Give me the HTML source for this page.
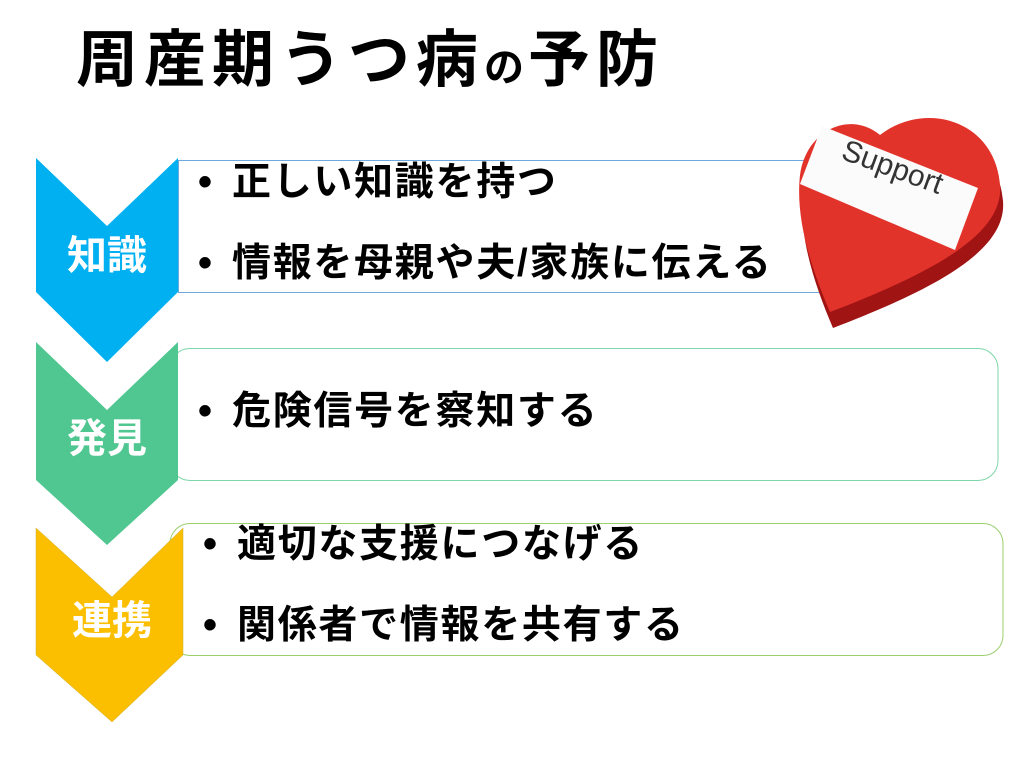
<!DOCTYPE html>
<html><head><meta charset="utf-8"><style>
body{margin:0;width:1024px;height:768px;background:#fff;position:relative;overflow:hidden;font-family:"Liberation Sans","Noto Sans CJK JP",sans-serif;}
.t{position:absolute;font-weight:bold;white-space:nowrap;color:#000;}
.b{position:absolute;font-weight:bold;font-size:39px;letter-spacing:1.7px;white-space:nowrap;line-height:1;}
.b span{display:inline-block;width:34px;letter-spacing:0;font-size:40px;}
.lab{position:absolute;color:#fff;font-weight:bold;font-size:40px;line-height:1;width:142px;text-align:center;}
</style></head><body>
<div class="t" style="left:76px;top:26px;font-size:62px;letter-spacing:6px;line-height:70px;">周産期うつ病<span style="font-size:40px;letter-spacing:4px">の</span>予防</div>

<svg width="1024" height="768" style="position:absolute;left:0;top:0">
<rect x="178.5" y="160.5" width="700" height="132" fill="#fff" stroke="#6fa8dc" stroke-width="1"/>
<rect x="170" y="348.5" width="828" height="132" rx="20" fill="#fff" stroke="#7fd6a8" stroke-width="1"/>
<rect x="170" y="523.5" width="833" height="132" rx="20" fill="#fff" stroke="#9bcf6d" stroke-width="1"/>
<polygon points="36,158 107,226 178,158 178,292 107,362 36,292" fill="#00b0f0"/>
<polygon points="36,342 107,410 178,342 178,480 107,545 36,480" fill="#50c690"/>
<polygon points="36,528 112,597 183,528 183,655 112,722 36,655" fill="#fbbf00" stroke="#c9b030" stroke-width="0.5"/>
<g>
<path d="M830,312 C812,270 795,220 800,175 C806,130 850,110 880,135 C925,100 995,120 1000,185 C1004,232 940,270 830,312 Z" fill="#a01414" transform="translate(3,16)"/>
<path d="M830,312 C812,270 795,220 800,175 C806,130 850,110 880,135 C925,100 995,120 1000,185 C1004,232 940,270 830,312 Z" fill="#e2332b"/>
<polygon points="822,126 978,188 955,250 800,184" fill="#fbfbfb"/>
<text x="830" y="176" font-family="Liberation Sans,sans-serif" font-size="30" fill="#333" transform="rotate(20 885 195)">Support</text>
</g>
</svg>

<div class="lab" style="left:36px;top:236px">知識</div>
<div class="lab" style="left:36px;top:419px">発見</div>
<div class="lab" style="left:41px;top:601px">連携</div>

<div class="b" style="left:198px;top:162px"><span>•</span>正しい知識を持つ</div>
<div class="b" style="left:198px;top:243px"><span>•</span>情報を母親や夫/家族に伝える</div>
<div class="b" style="left:198px;top:391px"><span>•</span>危険信号を察知する</div>
<div class="b" style="left:203px;top:524px"><span>•</span>適切な支援につなげる</div>
<div class="b" style="left:203px;top:605px"><span>•</span>関係者で情報を共有する</div>
</body></html>
